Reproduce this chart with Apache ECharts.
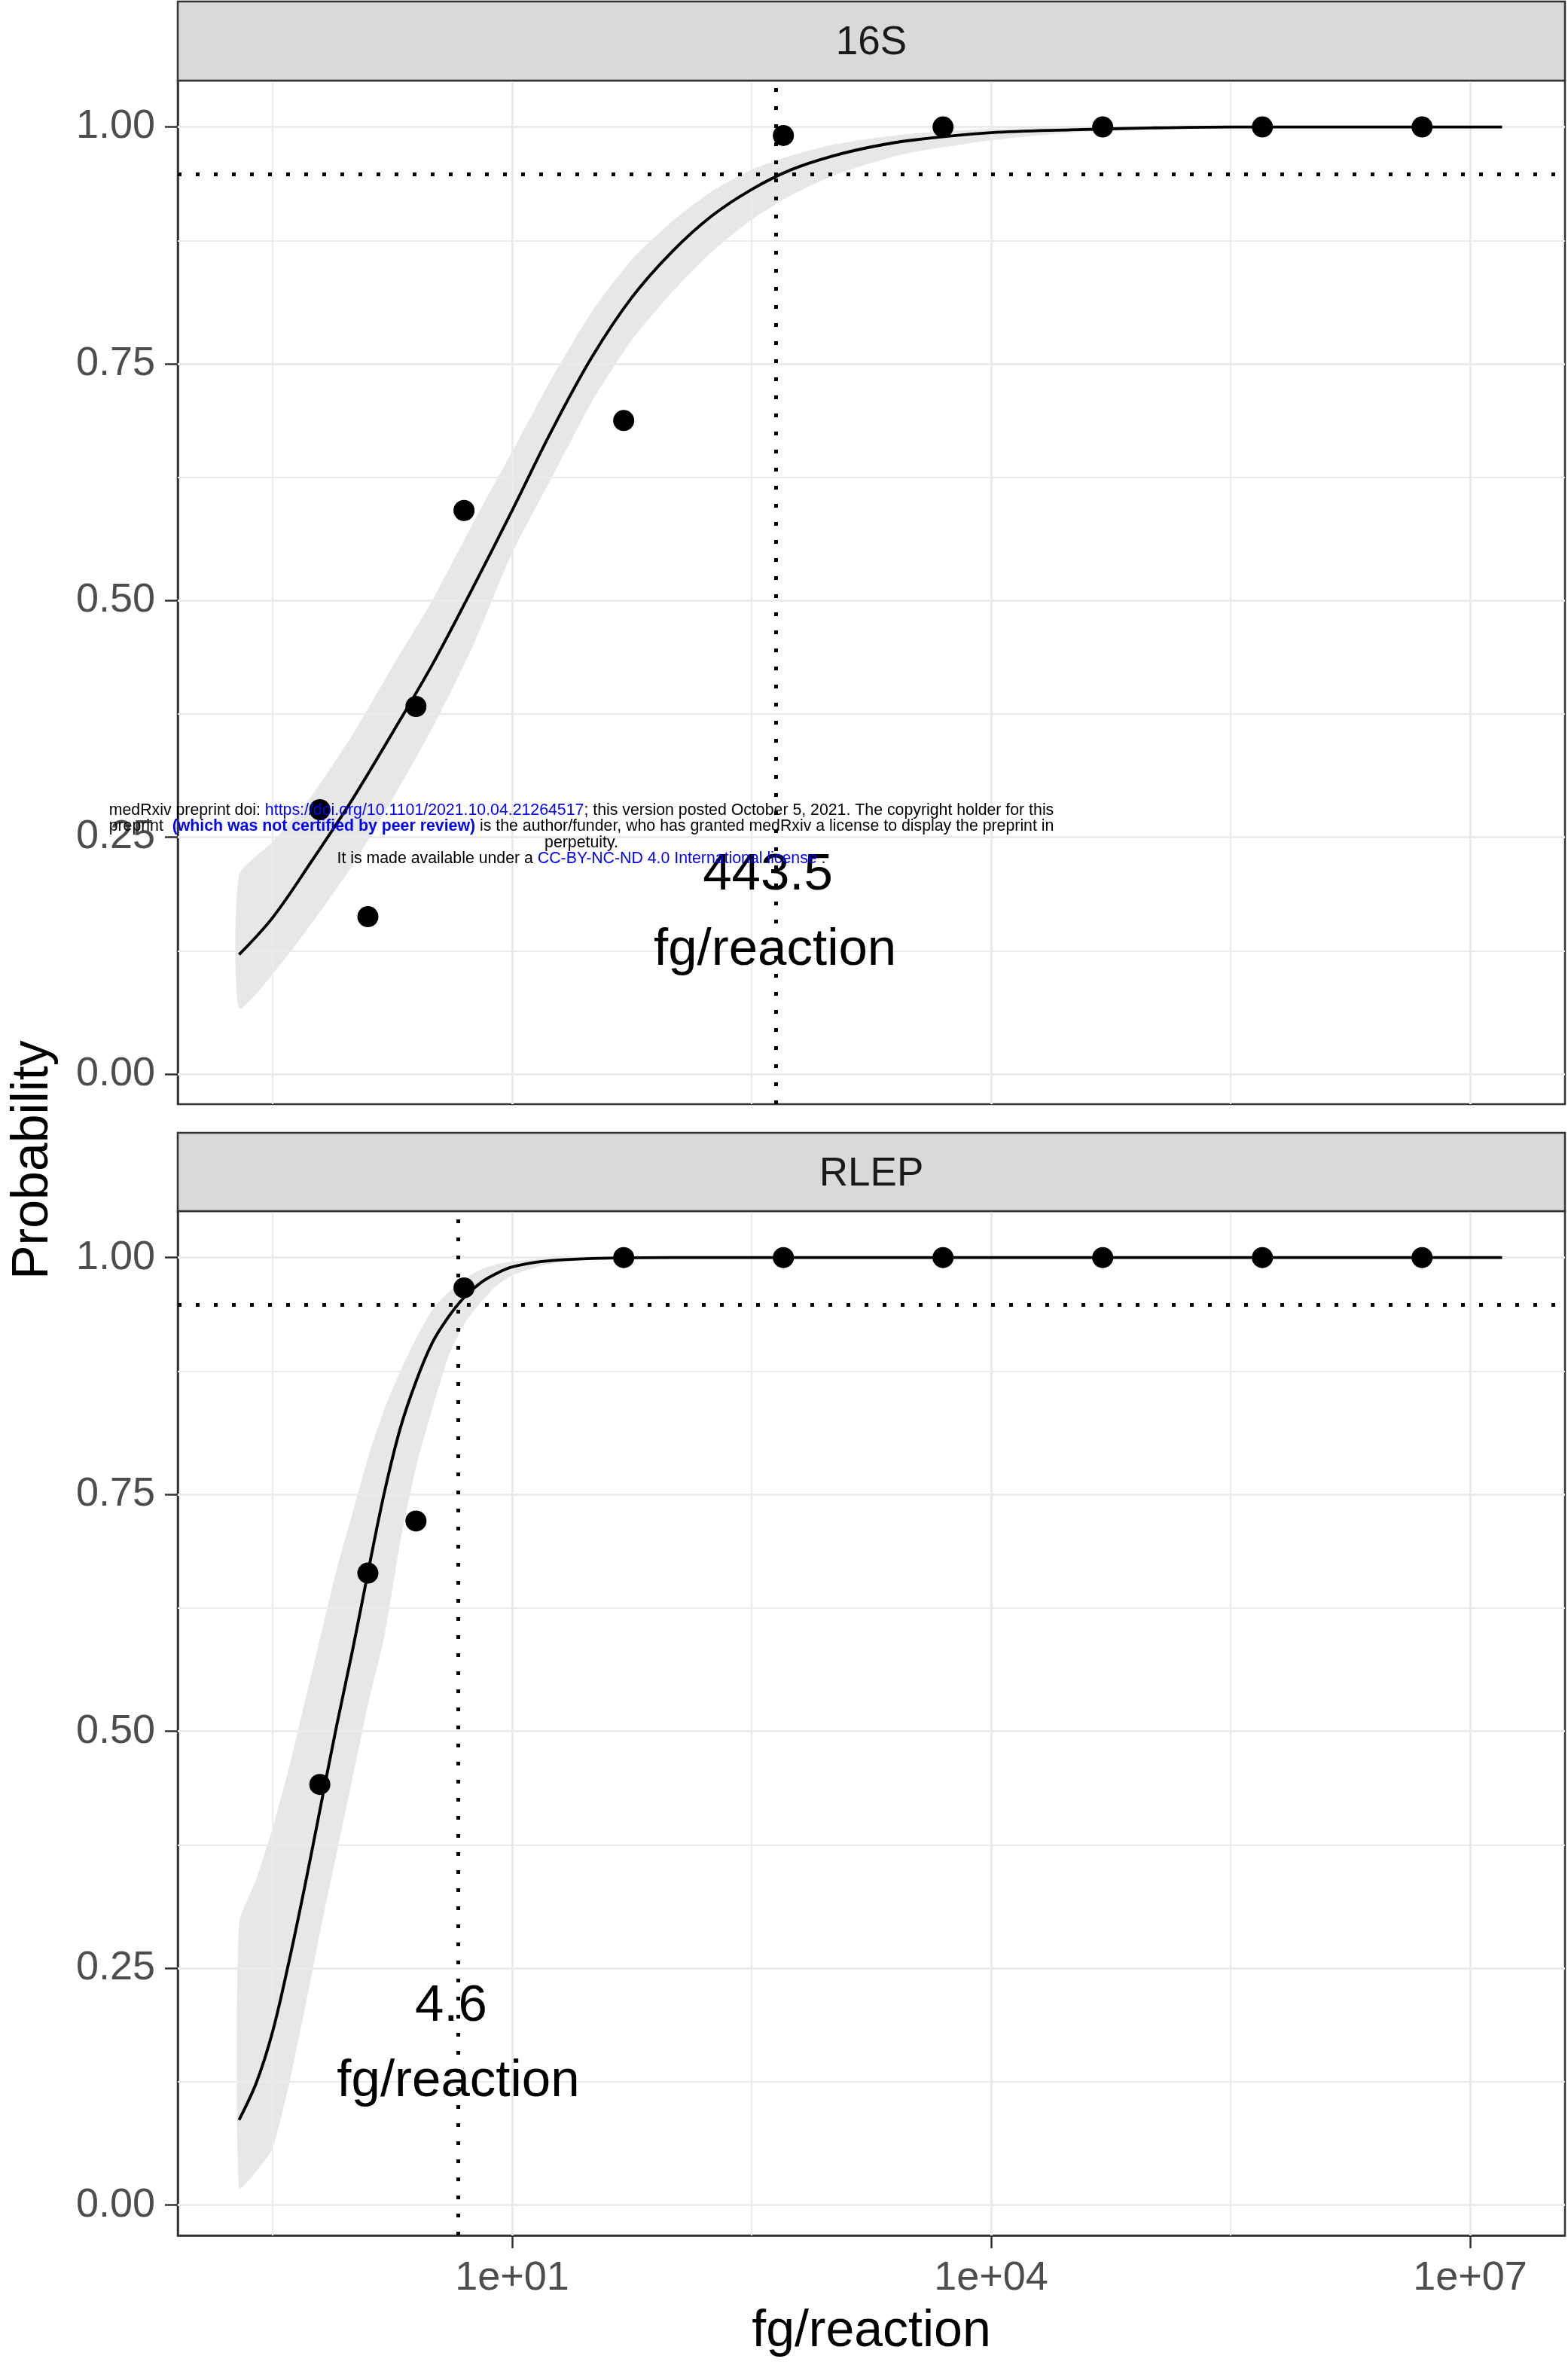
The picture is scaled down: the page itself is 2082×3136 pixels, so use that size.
<!DOCTYPE html>
<html><head><meta charset="utf-8">
<script src="https://cdn.jsdelivr.net/npm/echarts@6/dist/echarts.min.js"></script>
<style>html,body{margin:0;padding:0;background:#fff}#c{width:2082px;height:3136px}</style>
</head><body><div id="c"></div>
<script>
// ---------------- data ----------------
const panelNames = ['16S', 'RLEP'];
const doseFg = [0.625, 1.25, 2.5, 5, 50, 500, 5000, 50000, 500000, 5000000];
const prob16S = [0.279, 0.166, 0.388, 0.595, 0.690, 0.991, 1, 1, 1, 1];
const probRLEP = [0.444, 0.667, 0.722, 0.968, 1, 1, 1, 1, 1, 1];
const lod95 = [443.5, 4.6];            // fg/reaction at 95 % detection
const detectionLevel = 0.95;

// fitted curves (x given as log10 fg/reaction) with confidence band
const fit16SLog10X = [-0.71,-0.5,-0.25,0,0.25,0.5,0.75,1,1.25,1.5,1.75,2,2.25,2.5,2.75,3,3.25,3.5,4,4.5,5,5.5,6,6.5,7.2];
const fit16S       = [0.126,0.165,0.226,0.29,0.36,0.432,0.512,0.595,0.68,0.757,0.82,0.868,0.906,0.934,0.955,0.969,0.979,0.986,0.994,0.997,0.999,1,1,1,1];
const fit16SLower  = [0.069,0.105,0.16,0.22,0.29,0.365,0.45,0.55,0.63,0.71,0.775,0.825,0.868,0.902,0.928,0.948,0.962,0.973,0.986,0.994,0.997,0.999,1,1,1];
const fit16SUpper  = [0.21,0.245,0.295,0.358,0.43,0.5,0.58,0.657,0.735,0.805,0.86,0.9,0.932,0.955,0.97,0.981,0.988,0.993,0.998,0.999,1,1,1,1,1];

const fitRLEPLog10X = [-0.71,-0.6,-0.5,-0.4,-0.3,-0.2,-0.1,0,0.1,0.2,0.3,0.4,0.5,0.6,0.7,0.8,0.9,1,1.2,1.5,2,3,4,5,6,7.2];
const fitRLEP       = [0.09,0.13,0.183,0.255,0.335,0.42,0.505,0.585,0.67,0.752,0.82,0.87,0.91,0.937,0.958,0.973,0.983,0.99,0.996,0.999,1,1,1,1,1,1];
const fitRLEPLower  = [0.018,0.036,0.06,0.125,0.205,0.29,0.37,0.45,0.53,0.6,0.7,0.78,0.84,0.895,0.93,0.952,0.97,0.981,0.992,0.998,1,1,1,1,1,1];
const fitRLEPUpper  = [0.297,0.345,0.398,0.46,0.53,0.6,0.67,0.73,0.79,0.84,0.88,0.915,0.945,0.963,0.977,0.987,0.993,0.996,0.999,1,1,1,1,1,1,1];

// axes
const xTickValues = [10, 1e4, 1e7];
const xTickLabels = ['1e+01', '1e+04', '1e+07'];
const xMinorLog10 = [-0.5, 2.5, 5.5];
const yTicks = [0, 0.25, 0.5, 0.75, 1];
const yMinor = [0.125, 0.375, 0.625, 0.875];
const xRangeLog10 = [-1.094, 7.594];
const yRange = [-0.032, 1.049];

// ---------------- chart ----------------
const FONT = '"Liberation Sans", Arial, Helvetica, sans-serif';
const xTickLog = xTickValues.map(v => Math.round(Math.log10(v)));
const zip = (a, b) => a.map((v, i) => [v, b[i]]);

const panels = [
  {x: fit16SLog10X, fit: fit16S, lo: fit16SLower, hi: fit16SUpper, pts: prob16S},
  {x: fitRLEPLog10X, fit: fitRLEP, lo: fitRLEPLower, hi: fitRLEPUpper, pts: probRLEP}
];
const grids = [
  {left: 236, top: 107, width: 1842, height: 1359},
  {left: 236, top: 1608, width: 1842, height: 1360}
];

const gridLineMajor = {color: '#EBEBEB', width: 3.2, type: 'solid'};
const gridLineMinor = {color: '#EBEBEB', width: 2.2, type: 'solid'};

const series = [];
panels.forEach((p, i) => {
  const ax = {xAxisIndex: i, yAxisIndex: i};
  series.push(Object.assign({
    type: 'line', data: [], z: 1, silent: true, symbol: 'none',
    markLine: {
      silent: true, symbol: ['none', 'none'], label: {show: false}, animation: false,
      data: [
        ...xMinorLog10.map(v => ({xAxis: v, lineStyle: gridLineMinor})),
        ...xTickLog.map(v => ({xAxis: v, lineStyle: gridLineMajor})),
        ...yMinor.map(v => ({yAxis: v, lineStyle: gridLineMinor})),
        ...yTicks.map(v => ({yAxis: v, lineStyle: gridLineMajor}))
      ]
    }
  }, ax));
  // confidence ribbon as one polygon drawn through the axis scales
  series.push(Object.assign({
    type: 'custom', z: 2, silent: true,
    data: [[p.x[0], p.lo[0]]],
    renderItem: function (params, api) {
      const upper = p.x.map((x, k) => api.coord([x, p.hi[k]]));
      const lower = p.x.map((x, k) => api.coord([x, p.lo[k]])).reverse();
      return {
        type: 'polygon', z2: 0,
        shape: {points: upper.concat(lower), smooth: 0.2},
        style: {fill: 'rgba(0,0,0,0.095)', stroke: 'none'}
      };
    }
  }, ax));
  series.push(Object.assign({
    type: 'line', data: zip(p.x, p.fit), smooth: 0.35,
    symbol: 'none', silent: true, z: 8, lineStyle: {color: '#000', width: 3.9, opacity: 1}
  }, ax));
  series.push(Object.assign({
    type: 'scatter', data: zip(doseFg.map(d => Math.log10(d)), p.pts), symbolSize: 28,
    itemStyle: {color: '#000', opacity: 1}, z: 9, silent: true
  }, ax));
  series.push(Object.assign({
    type: 'line', data: [], z: 7, silent: true, symbol: 'none',
    markLine: {
      silent: true, symbol: ['none', 'none'], label: {show: false}, animation: false,
      lineStyle: {color: '#000', width: 5, type: [5, 19], opacity: 1},
      data: [{xAxis: Math.log10(lod95[i])}, {yAxis: detectionLevel}]
    }
  }, ax));
  series.push(Object.assign({
    type: 'scatter', data: [[Math.log10(lod95[i]), 0.17]], symbolSize: 2, z: 9, silent: true,
    itemStyle: {color: 'rgba(0,0,0,0)'},
    label: {
      show: true, position: 'inside', formatter: lod95[i] + ' \nfg/reaction',
      fontSize: 69, lineHeight: 100, color: '#000', opacity: 1, textBorderWidth: 0,
      fontFamily: FONT, align: 'center', verticalAlign: 'middle'
    },
    labelLayout: {hideOverlap: false}
  }, ax));
});

const xAxes = [0, 1].map(i => ({
  type: 'value', gridIndex: i, min: xRangeLog10[0], max: xRangeLog10[1],
  show: i === 1,
  axisLine: {show: true, onZero: false, lineStyle: {color: '#333', width: 2.5}},
  axisTick: {show: true, customValues: xTickLog, length: 17, lineStyle: {color: '#333', width: 2.5}},
  axisLabel: {
    customValues: xTickLog, formatter: v => xTickLabels[xTickLog.indexOf(Math.round(v))],
    fontSize: 54, color: '#4D4D4D', margin: 30, fontFamily: FONT
  },
  splitLine: {show: false}
}));
const yAxes = [0, 1].map(i => ({
  type: 'value', gridIndex: i, min: yRange[0], max: yRange[1],
  axisLine: {show: true, onZero: false, lineStyle: {color: '#333', width: 2.5}},
  axisTick: {show: true, customValues: yTicks, length: 17, lineStyle: {color: '#333', width: 2.5}},
  axisLabel: {
    customValues: yTicks, formatter: v => v.toFixed(2),
    fontSize: 54, color: '#4D4D4D', margin: 30, fontFamily: FONT
  },
  splitLine: {show: false}
}));

const WM = 21.3;
const wmRich = {
  n: {fontSize: WM, fill: '#000', fontFamily: FONT},
  l: {fontSize: WM, fill: '#0000FF', fontFamily: FONT},
  b: {fontSize: WM, fill: '#0000FF', fontWeight: 'bold', fontFamily: FONT}
};
const wmLines = [
  '{n|medRxiv preprint doi: }{l|https://doi.org/10.1101/2021.10.04.21264517}{n|; this version posted October 5, 2021. The copyright holder for this}',
  '{n|preprint  }{b|(which was not certified by peer review)}{n| is the author/funder, who has granted medRxiv a license to display the preprint in}',
  '{n|perpetuity.}',
  '{n|It is made available under a }{l|CC-BY-NC-ND 4.0 International license}{n| .}'
];
const wmY = [1076, 1097.5, 1119, 1140];

const graphic = [];
grids.forEach((g, i) => {
  const stripTop = i === 0 ? 2 : 1504;
  graphic.push({
    type: 'rect', z: 10,
    shape: {x: g.left, y: stripTop, width: g.width, height: g.top - stripTop},
    style: {fill: '#D9D9D9', stroke: '#333', lineWidth: 2.5}
  });
  graphic.push({
    type: 'text', z: 11, x: g.left + g.width / 2, y: (stripTop + g.top) / 2 + 3,
    style: {text: panelNames[i], fontSize: 53, fill: '#1A1A1A', fontFamily: FONT, align: 'center', verticalAlign: 'middle'}
  });
});
graphic.push({
  type: 'text', z: 11, x: 1157, y: 3096,
  style: {text: 'fg/reaction', fontSize: 68, fill: '#000', fontFamily: FONT, align: 'center', verticalAlign: 'middle'}
});
graphic.push({
  type: 'text', z: 11, x: 44, y: 1540, rotation: Math.PI / 2,
  style: {text: 'Probability', fontSize: 68, fill: '#000', fontFamily: FONT, align: 'center', verticalAlign: 'middle'}
});
wmLines.forEach((t, k) => graphic.push({
  type: 'text', z: 100, x: 772, y: wmY[k],
  style: {text: t, rich: wmRich, fontSize: WM, fontFamily: FONT, align: 'center', verticalAlign: 'middle'}
}));

const chart = echarts.init(document.getElementById('c'), null, {renderer: 'canvas'});
chart.setOption({
  animation: false,
  backgroundColor: '#fff',
  grid: grids.map(g => Object.assign({show: true, borderColor: '#333', borderWidth: 2.5, backgroundColor: 'transparent', containLabel: false}, g)),
  xAxis: xAxes,
  yAxis: yAxes,
  series: series,
  graphic: graphic
});
</script></body></html>
